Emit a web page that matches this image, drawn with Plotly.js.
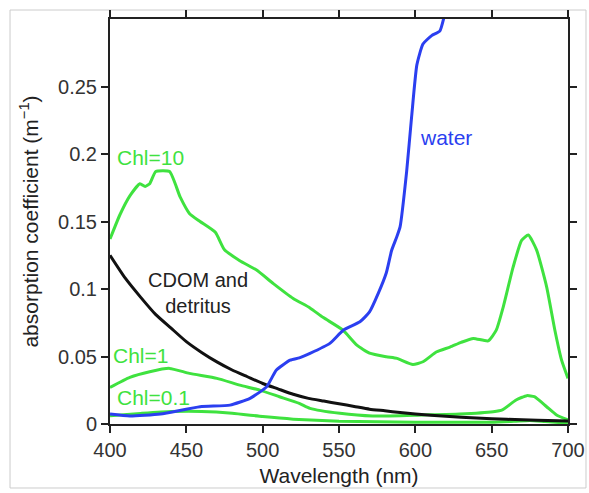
<!DOCTYPE html>
<html>
<head>
<meta charset="utf-8">
<script src="https://cdn.plot.ly/plotly-3.0.1.min.js"></script>
<style>html,body{margin:0;padding:0;background:#fff;}#chart{width:589px;height:493px;}</style>
</head>
<body>
<div id="chart"></div>
<script>
// Chl = 10 mg m^-3 phytoplankton absorption
const chl10X = [400,406.5,413,419.6,423,426,430,439,446,452,459,469,475,485,496,507,520,531,539.5,552.6,561.7,570,581,588,598.4,605,614,622.7,630,638,647.7,653,657.6,664,669.6,674,679.4,686,691.4,695.8,700];
const chl10Y = [0.137,0.155,0.169,0.178,0.176,0.178,0.187,0.187,0.168,0.156,0.150,0.142,0.129,0.121,0.114,0.104,0.093,0.086,0.079,0.0695,0.0584,0.0525,0.0498,0.0486,0.0441,0.0461,0.0535,0.057,0.0605,0.0634,0.0616,0.0695,0.0868,0.116,0.136,0.140,0.129,0.1016,0.0695,0.0473,0.0338];
// Chl = 1
const chl1X = [400,413,426,439,452,470,485,498,511,524,531,550.6,572,605,629,651,657,666,673,678,686,692.5,700];
const chl1Y = [0.0271,0.0345,0.0387,0.0412,0.0375,0.0338,0.0288,0.0251,0.0202,0.0153,0.0116,0.0079,0.0059,0.0067,0.0074,0.0091,0.0104,0.0178,0.021,0.0202,0.0128,0.0067,0.0030];
// Chl = 0.1
const chl01X = [400,420,440,460,480,500,520,550,600,650,665,675,685,700];
const chl01Y = [0.0062,0.0078,0.0092,0.0093,0.0080,0.0055,0.0036,0.0021,0.0013,0.0013,0.0020,0.0026,0.0018,0.0006];
// pure water
const waterX = [400,413,433,459,478.6,491.7,502.6,509,518,524,531,544,552.8,563.7,570,575.7,581,584.5,587.8,590,594.3,597.6,601,605,610.7,616,618.7];
const waterY = [0.0074,0.0059,0.0074,0.0128,0.014,0.019,0.0276,0.040,0.0473,0.049,0.0523,0.0597,0.0695,0.0757,0.083,0.0967,0.112,0.1287,0.1385,0.146,0.187,0.228,0.266,0.2815,0.2877,0.291,0.301];
// CDOM and detritus
const cdomX = [400,410,420,430,440,450,460,470,480,490,500,510,520,530,540,550,560,570,580,590,600,620,640,660,680,700];
const cdomY = [0.125,0.108,0.094,0.081,0.071,0.061,0.053,0.046,0.040,0.035,0.030,0.026,0.022,0.019,0.017,0.015,0.013,0.011,0.0098,0.0085,0.0074,0.0057,0.0045,0.0035,0.0028,0.0022];

const xTicks = [400,450,500,550,600,650,700];
const yTicks = [0,0.05,0.1,0.15,0.2,0.25];
const yTickText = ['0','0.05','0.1','0.15','0.2','0.25'];

const green = '#3fe23f';
const blue = '#2b3ff0';
const black = '#111111';
const FONT = 'Liberation Sans, Arial, Helvetica, sans-serif';

const lineStyle = (c) => ({color: c, width: 3, shape: 'spline', smoothing: 0.5});
const traces = [
  {x: chl10X, y: chl10Y, mode: 'lines', line: lineStyle(green)},
  {x: chl1X, y: chl1Y, mode: 'lines', line: lineStyle(green)},
  {x: chl01X, y: chl01Y, mode: 'lines', line: lineStyle(green)},
  {x: cdomX, y: cdomY, mode: 'lines', line: lineStyle(black)},
  {x: waterX, y: waterY, mode: 'lines', line: lineStyle(blue)}
];

const layout = {
  width: 589, height: 493,
  margin: {l: 110, r: 21, t: 19, b: 69},
  showlegend: false,
  paper_bgcolor: '#fff', plot_bgcolor: '#fff',
  font: {family: FONT, size: 20, color: '#333'},
  xaxis: {
    range: [400, 700], tickvals: xTicks, ticks: 'outside', ticklen: 7, tickwidth: 2,
    tickcolor: '#222', showline: true, linecolor: '#222', linewidth: 2, mirror: 'ticks',
    showgrid: false, zeroline: false, tickfont: {size: 20, color: '#333'},
    title: {text: 'Wavelength (nm)', font: {size: 21, color: '#222'}, standoff: 8}
  },
  yaxis: {
    range: [0, 0.3], tickvals: yTicks, ticktext: yTickText, ticks: 'outside', ticklen: 7, tickwidth: 2,
    tickcolor: '#222', showline: true, linecolor: '#222', linewidth: 2, mirror: 'ticks',
    showgrid: false, zeroline: false, tickfont: {size: 20, color: '#333'},
    title: {text: 'absorption coefficient (m<sup>−1</sup>)', font: {size: 21, color: '#222'}, standoff: 14}
  },
  annotations: [
    {x: 426.8, y: 0.1975, text: 'Chl=10', showarrow: false, font: {color: green, size: 21}},
    {x: 620, y: 0.2123, text: 'water', showarrow: false, font: {color: blue, size: 21}},
    {x: 457.6, y: 0.0967, text: 'CDOM and<br>detritus', showarrow: false, font: {color: '#222', size: 20}},
    {x: 420.3, y: 0.051, text: 'Chl=1', showarrow: false, font: {color: green, size: 21}},
    {x: 428.2, y: 0.020, text: 'Chl=0.1', showarrow: false, font: {color: green, size: 21}}
  ],
  shapes: [
    {type: 'rect', xref: 'paper', yref: 'paper', x0: -0.2183, x1: 1.0393, y0: -0.158, y1: 1.0222,
     line: {color: '#cccccc', width: 1}, layer: 'below'}
  ]
};

Plotly.newPlot('chart', traces, layout, {displayModeBar: false, staticPlot: true});
</script>
</body>
</html>
